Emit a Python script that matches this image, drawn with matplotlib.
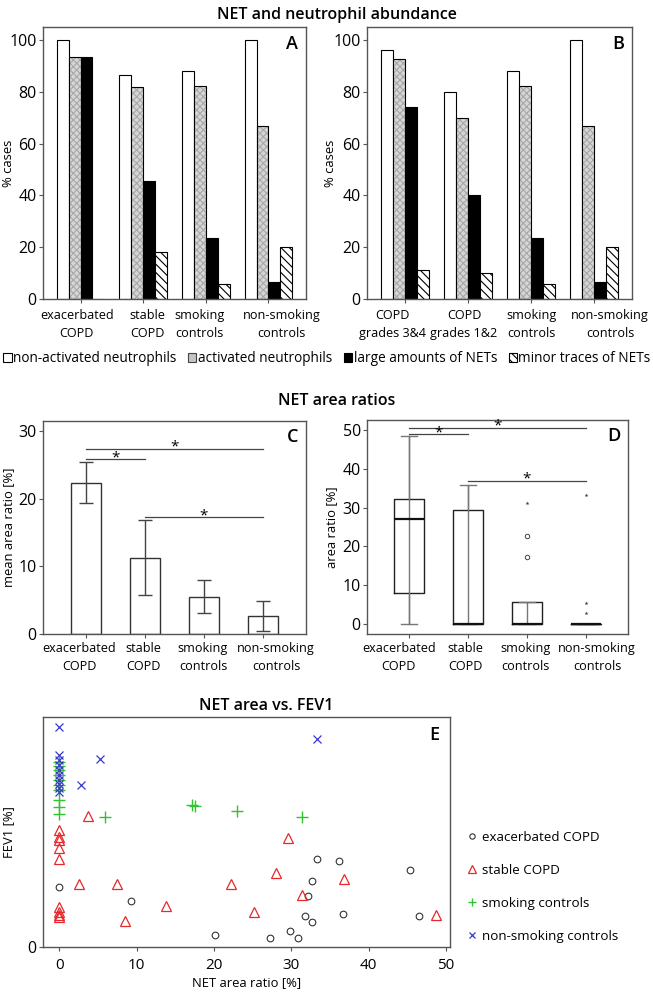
import matplotlib
matplotlib.use('Agg')
import matplotlib.pyplot as plt
import matplotlib.transforms as mtransforms
import numpy as np
from matplotlib.patches import Patch

plt.rcParams['font.family'] = ['Open Sans', 'DejaVu Sans']
plt.rcParams['hatch.linewidth'] = 0.8

# ---------------- data ----------------
groups_a = ['exacerbated\nCOPD', 'stable\nCOPD', 'smoking\ncontrols', 'non-smoking\ncontrols']
groups_b = ['COPD\ngrades 3&4', 'COPD\ngrades 1&2', 'smoking\ncontrols', 'non-smoking\ncontrols']
series_names = ['non-activated neutrophils', 'activated neutrophils',
                'large amounts of NETs', 'minor traces of NETs']
a_nonact = [100, 86.4, 88.2, 100]
a_act = [93.3, 81.8, 82.4, 66.7]
a_large = [93.3, 45.5, 23.5, 6.7]
a_minor = [0, 18.2, 5.9, 20]
b_nonact = [96.3, 80, 88.2, 100]
b_act = [92.6, 70, 82.4, 66.7]
b_large = [74.1, 40, 23.5, 6.7]
b_minor = [11.1, 10, 5.9, 20]

groups_cd = ['exacerbated\nCOPD', 'stable\nCOPD', 'smoking\ncontrols', 'non-smoking\ncontrols']
c_mean = [22.4, 11.3, 5.5, 2.65]
c_err = [3.0, 5.5, 2.45, 2.2]
c_sig_from = [0, 0, 1]
c_sig_to = [3, 1, 3]
c_sig_y = [27.4, 25.85, 17.3]

d_whislo = [0, 0, 0, 0]
d_q1 = [8.1, 0, 0, 0]
d_med = [27.0, 0, 0, 0]
d_q3 = [32.3, 29.5, 5.75, 0]
d_whishi = [48.4, 35.9, 5.75, 0]
d_circ_x = [2, 2]
d_circ_y = [22.8, 17.35]
d_star_x = [2, 3, 3, 3]
d_star_y = [31.1, 33.2, 5.3, 2.8]
d_sig_from = [0, 0, 1]
d_sig_to = [3, 1, 3]
d_sig_y = [50.6, 48.9, 36.9]

e_labels = ['exacerbated COPD', 'stable COPD', 'smoking controls', 'non-smoking controls']
exac_x = [0, 9.3, 20.1, 27.2, 29.8, 30.8, 31.7, 32.7, 32.2, 32.7, 33.3, 36.1, 45.3, 36.7, 46.5]
exac_y = [34.1, 26.0, 6.8, 4.9, 9.2, 4.9, 17.5, 13.9, 28.8, 37.5, 49.6, 48.6, 43.5, 18.7, 17.7]
stable_x = [3.7, 0, 0, 0, 0, 0, 0, 0, 0, 0, 2.6, 7.5, 13.8, 8.5, 22.2, 25.2, 28.0, 29.6, 31.4, 36.8, 48.7]
stable_y = [74.0, 66.1, 62.0, 60.5, 55.8, 49.6, 22.8, 20.0, 18.1, 16.8, 35.6, 35.6, 23.2, 14.7, 35.6,
            20.0, 42.0, 61.8, 29.4, 38.6, 17.9]
smok_x = [0, 0, 0, 0, 0, 0, 0, 0, 0, 0, 17.2, 17.6, 23.0, 5.9, 31.4]
smok_y = [104.6, 102.3, 100.0, 97.2, 94.4, 91.6, 88.7, 83.1, 79.1, 75.2, 80.5, 79.7, 76.9, 73.7, 73.7]
nons_x = [0, 33.3, 5.3, 2.8, 0, 0, 0, 0, 0, 0, 0, 0, 0]
nons_y = [124.5, 117.6, 106.1, 91.6, 108.5, 105.7, 102.9, 100.1, 97.2, 94.4, 92.1, 89.9, 87.6]

# ---------------- figure ----------------
W, H = 653, 992
fig = plt.figure(figsize=(W / 100, H / 100), dpi=100)


def px_axes(l, t, r, b):
    return fig.add_axes([l / W, 1 - b / H, (r - l) / W, (b - t) / H])


FS_TICK_Y = 11.5
FS_LAB = 9.4
FS_XT = 9.1
SPINE = '#555555'
ACT_FACE = '#d6d6d6'


def style_axes(ax, xpad=4):
    for s in ax.spines.values():
        s.set_color(SPINE)
        s.set_linewidth(1.0)
    ax.tick_params(axis='both', direction='out', length=3, width=0.8, color=SPINE, pad=1.5)
    ax.tick_params(axis='y', labelsize=FS_TICK_Y)
    ax.tick_params(axis='x', labelsize=FS_XT, pad=xpad)


def shift_xlabels(ax, offsets_px):
    for lab, dx in zip(ax.get_xticklabels(), offsets_px):
        lab.set_transform(lab.get_transform() +
                          mtransforms.ScaledTranslation(dx / 100, 0, fig.dpi_scale_trans))


def bar_panel(ax, labels, nonact, act, large, minor, letter, offsets, ylab_x):
    x = np.arange(len(labels))
    w = 0.19
    ax.bar(x - 1.5 * w, nonact, w, color='white', edgecolor='black', linewidth=0.8)
    ax.bar(x - 0.5 * w, act, w, color=ACT_FACE, edgecolor='#a8a8a8', hatch='xxxxx', linewidth=0)
    ax.bar(x - 0.5 * w, act, w, fill=False, edgecolor='black', linewidth=0.8)
    ax.bar(x + 0.5 * w, large, w, color='black', edgecolor='black', linewidth=0.8)
    ax.bar(x + 1.5 * w, minor, w, color='white', edgecolor='black', hatch='\\\\\\\\', linewidth=0.8)
    ax.set_xlim(-0.6, 3.6)
    ax.set_ylim(0, 105)
    ax.set_yticks([0, 20, 40, 60, 80, 100])
    ax.set_xticks(x)
    ax.set_xticklabels(labels, linespacing=1.5)
    ax.set_ylabel('% cases', fontsize=FS_LAB)
    ax.yaxis.set_label_coords(ylab_x, 0.5)
    style_axes(ax)
    shift_xlabels(ax, offsets)
    ax.text(0.97, 0.97, letter, transform=ax.transAxes, ha='right', va='top',
            fontsize=13, fontweight='semibold')


axA = px_axes(43, 27, 306, 299)
bar_panel(axA, groups_a, a_nonact, a_act, a_large, a_minor, 'A', [-4, 4, -6, 13], -0.106)
axB = px_axes(367, 27, 632, 299)
bar_panel(axB, groups_b, b_nonact, b_act, b_large, b_minor, 'B', [-12, -4, 0, 16], -0.113)

handles = [Patch(facecolor='white', edgecolor='black', linewidth=0.8),
           Patch(facecolor='#c4c4c4', edgecolor='#444444', linewidth=0.8),
           Patch(facecolor='black', edgecolor='black', linewidth=0.8),
           Patch(facecolor='white', edgecolor='black', hatch='\\\\\\\\', linewidth=0.8)]
fig.legend(handles, series_names, loc='center', bbox_to_anchor=(327 / W, 1 - 359 / H),
           ncol=4, frameon=False, fontsize=9.8, handlelength=0.6, handleheight=0.6,
           handletextpad=0.12, columnspacing=0.85, borderpad=0, borderaxespad=0)

fig.text(337 / W, 1 - 15 / H, 'NET and neutrophil abundance', ha='center', va='center',
         fontsize=11.5, fontweight='semibold')
fig.text(337 / W, 1 - 401 / H, 'NET area ratios', ha='center', va='center',
         fontsize=11.5, fontweight='semibold')
fig.text(266 / W, 1 - 706 / H, 'NET area vs. FEV1', ha='center', va='center',
         fontsize=11.5, fontweight='semibold')

# ---------------- C ----------------
axC = px_axes(43, 421, 306, 634)
xc = np.arange(4)
axC.bar(xc, c_mean, 0.51, color='white', edgecolor='#333333', linewidth=1.0)
axC.errorbar(xc, c_mean, yerr=c_err, fmt='none', ecolor='#444444', elinewidth=1.0,
             capsize=4.7, capthick=1.0)
for f, t, y in zip(c_sig_from, c_sig_to, c_sig_y):
    axC.plot([xc[f], xc[t]], [y, y], color='#444444', lw=0.9)
    axC.text((xc[f] + xc[t]) / 2, y - 0.9, '*', ha='center', va='bottom', fontsize=11)
axC.set_xlim(-0.73, 3.73)
axC.set_ylim(0, 31.5)
axC.set_yticks([0, 10, 20, 30])
axC.set_xticks(xc)
axC.set_xticklabels(groups_cd, linespacing=1.5)
axC.set_ylabel('mean area ratio [%]', fontsize=FS_LAB)
axC.yaxis.set_label_coords(-0.106, 0.5)
style_axes(axC, xpad=2.5)
shift_xlabels(axC, [-7, -2, -1, 13])
axC.text(0.97, 0.965, 'C', transform=axC.transAxes, ha='right', va='top',
         fontsize=13, fontweight='semibold')

# ---------------- D ----------------
axD = px_axes(367, 420, 628, 634)
xd = np.arange(4)
stats = [dict(whislo=a, q1=b, med=c, q3=d, whishi=e, fliers=[])
         for a, b, c, d, e in zip(d_whislo, d_q1, d_med, d_q3, d_whishi)]
axD.vlines(xd, d_whislo, d_whishi, color='#777777', lw=1.0, zorder=1)
axD.bxp(stats, positions=xd, widths=0.5, showfliers=False, manage_ticks=False,
        boxprops=dict(color='#222222', lw=1.0),
        medianprops=dict(color='#111111', lw=1.6),
        whiskerprops=dict(color='#777777', lw=1.0),
        capprops=dict(color='#777777', lw=1.0), capwidths=0.27)
axD.plot(d_circ_x, d_circ_y, 'o', ms=3.2, mfc='none', mec='#444444', mew=0.7)
axD.plot(d_star_x, d_star_y, '*', ms=3.0, color='#444444', mew=0)
for f, t, y in zip(d_sig_from, d_sig_to, d_sig_y):
    axD.plot([xd[f], xd[t]], [y, y], color='#444444', lw=0.9)
    axD.text((xd[f] + xd[t]) / 2, y - 1.5, '*', ha='center', va='bottom', fontsize=11)
axD.set_xlim(-0.71, 3.71)
axD.set_ylim(-2.6, 52.6)
axD.set_yticks([0, 10, 20, 30, 40, 50])
axD.set_xticks(xd)
axD.set_xticklabels(groups_cd, linespacing=1.5)
axD.set_ylabel('area ratio [%]', fontsize=FS_LAB)
axD.yaxis.set_label_coords(-0.111, 0.5)
style_axes(axD, xpad=2.5)
shift_xlabels(axD, [-10, -3, -2, 11])
axD.text(0.97, 0.965, 'D', transform=axD.transAxes, ha='right', va='top',
         fontsize=13, fontweight='semibold')

# ---------------- E ----------------
axE = px_axes(43, 717, 450, 947)
axE.plot(exac_x, exac_y, 'o', ls='none', ms=4.8, mfc='none', mec='#333333', mew=0.8,
         label=e_labels[0])
axE.plot(stable_x, stable_y, '^', ls='none', ms=6.5, mfc='none', mec='#e8282b', mew=0.9,
         label=e_labels[1])
axE.plot(smok_x, smok_y, '+', ls='none', ms=8, mec='#2fc42f', mew=1.0, label=e_labels[2])
axE.plot(nons_x, nons_y, 'x', ls='none', ms=6, mec='#3a3acc', mew=0.9, label=e_labels[3])
axE.set_xlim(-2.1, 50.5)
axE.set_ylim(0, 130)
axE.set_xticks([0, 10, 20, 30, 40, 50])
axE.set_yticks([0])
axE.set_xlabel('NET area ratio [%]', fontsize=FS_LAB, labelpad=2)
axE.set_ylabel('FEV1 [%]', fontsize=FS_LAB)
axE.yaxis.set_label_coords(-0.069, 0.5)
style_axes(axE, xpad=5)
axE.tick_params(axis='x', labelsize=11)
axE.text(0.975, 0.96, 'E', transform=axE.transAxes, ha='right', va='top',
         fontsize=13, fontweight='semibold')
axE.legend(loc='upper left', bbox_to_anchor=(466 / W, 1 - 831 / H),
           bbox_transform=fig.transFigure, frameon=False, fontsize=9.6,
           handlelength=0.9, handletextpad=0.3, labelspacing=1.5, borderpad=0,
           borderaxespad=0, markerscale=0.8)

fig.savefig('out.png', dpi=100)
